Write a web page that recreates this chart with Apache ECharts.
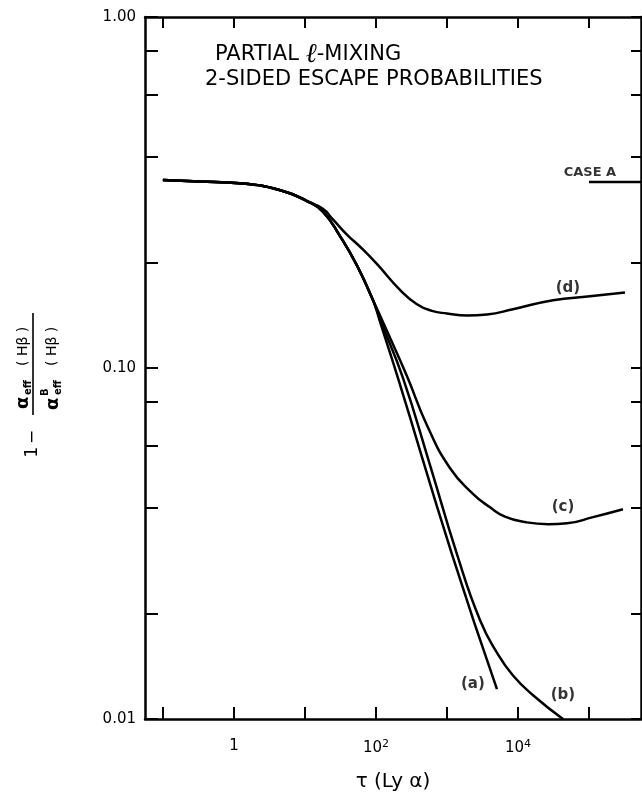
<!DOCTYPE html>
<html>
<head>
<meta charset="utf-8">
<script src="https://cdn.jsdelivr.net/npm/echarts@6/dist/echarts.min.js"></script>
<style>
  html, body { margin: 0; background: #fff; }
  #main { width: 642px; height: 797px; }
</style>
</head>
<body>
<div id="main"></div>
<script>
// axis range (tau, ratio) and tick values
var tauMin = 0.056, tauMax = 5.4e5
var valMin = 0.01, valMax = 1
var xTicks = [0.1, 1, 10, 100, 1000, 1e4, 1e5]
var xLabels = [1, 100, 1e4]
var yTicks = [0.01, 0.02, 0.04, 0.06, 0.08, 0.1, 0.2, 0.4, 0.6, 0.8, 1]
var yLabels = [0.01, 0.1, 1]

// curves
var tauA = [0.1, 0.33, 1.2, 4.5, 10.7, 17.9, 31, 54, 91, 114, 204, 1175, 5060]
var valA = [0.343, 0.340, 0.336, 0.321, 0.299, 0.279, 0.238, 0.196, 0.156, 0.1355, 0.0937, 0.0295, 0.01216]
var tauB = [0.1, 0.33, 1.2, 4.5, 10.7, 17.9, 31, 54, 91, 118, 240, 576, 1383, 2917, 5060, 8510, 16300, 43000]
var valB = [0.343, 0.340, 0.336, 0.321, 0.299, 0.279, 0.238, 0.196, 0.156, 0.1355, 0.0937, 0.0530, 0.0295, 0.01914, 0.01545, 0.0133, 0.01169, 0.0100]
var tauC = [0.1, 0.33, 1.2, 4.5, 10.7, 17.9, 31, 54, 91, 134, 273, 523, 1100, 2323, 4034, 6560, 12550, 26500, 49000, 114000, 301000]
var valC = [0.343, 0.340, 0.336, 0.321, 0.299, 0.279, 0.238, 0.196, 0.156, 0.1312, 0.0949, 0.0687, 0.0519, 0.0438, 0.0401, 0.0377, 0.0364, 0.0359, 0.0361, 0.0376, 0.0396]
var tauD = [0.1, 0.33, 1.2, 4.5, 10.7, 17.9, 24.8, 39, 63.5, 103, 218, 378, 615, 1000, 1914, 3660, 8500, 31100, 103000, 321000]
var valD = [0.343, 0.340, 0.336, 0.321, 0.299, 0.284, 0.265, 0.240, 0.219, 0.198, 0.167, 0.152, 0.1455, 0.143, 0.141, 0.142, 0.147, 0.156, 0.160, 0.164]
var caseTau = [1e5, 5.4e5]
var caseVal = [0.339, 0.339]

// curve labels
var noteText = ['(a)', '(b)', '(c)', '(d)', 'CASE A']
var noteTau = [2320, 43000, 43000, 50600, 1.03e5]
var noteVal = [0.01256, 0.01169, 0.0401, 0.169, 0.361]

var FONT = '"DejaVu Sans", sans-serif'
var lg = Math.log10

function pts(t, v) {
  return t.map(function (x, i) { return [lg(x), lg(v[i])] })
}

function curve(name, t, v) {
  return {
    name: name,
    type: 'line',
    data: pts(t, v),
    showSymbol: false,
    smooth: 0.5,
    clip: true,
    lineStyle: { color: '#000', width: 2.5 },
    z: 3
  }
}

var myChart = echarts.init(document.getElementById('main'))

var axisLineStyle = { color: '#000', width: 2.5 }

var option = {
  animation: false,
  backgroundColor: '#fff',
  grid: { left: 145, right: 1, top: 17, bottom: 70, containLabel: false },
  xAxis: [
    {
      type: 'value',
      min: lg(tauMin),
      max: lg(tauMax),
      splitLine: { show: false },
      axisLine: { onZero: false, lineStyle: axisLineStyle },
      axisTick: { inside: true, length: 12, lineStyle: { color: '#000', width: 2 }, customValues: xTicks.map(lg) },
      axisLabel: {
        customValues: xLabels.map(lg),
        margin: 20,
        color: '#000',
        fontFamily: FONT,
        fontSize: 15,
        formatter: function (v) {
          var e = Math.round(v)
          return e === 0 ? '1' : '10{s|' + e + '}'
        },
        rich: { s: { fontSize: 11, fontFamily: FONT, color: '#000', verticalAlign: 'top', padding: [0, 0, 8, 0] } }
      },
      name: 'τ (Ly α)',
      nameLocation: 'middle',
      nameGap: 53,
      nameTextStyle: { color: '#000', fontFamily: FONT, fontSize: 20 }
    },
    {
      type: 'value',
      position: 'top',
      min: lg(tauMin),
      max: lg(tauMax),
      splitLine: { show: false },
      axisLine: { onZero: false, lineStyle: axisLineStyle },
      axisTick: { inside: true, length: 11, lineStyle: { color: '#000', width: 2 }, customValues: xTicks.map(lg) },
      axisLabel: { show: false }
    }
  ],
  yAxis: [
    {
      type: 'value',
      min: lg(valMin),
      max: lg(valMax),
      splitLine: { show: false },
      axisLine: { onZero: false, lineStyle: axisLineStyle },
      axisTick: { inside: true, length: 13, lineStyle: { color: '#000', width: 2 }, customValues: yTicks.map(lg) },
      axisLabel: {
        customValues: yLabels.map(lg),
        margin: 9,
        color: '#000',
        fontFamily: FONT,
        fontSize: 15,
        formatter: function (v) { return Math.pow(10, v).toFixed(2) }
      }
    },
    {
      type: 'value',
      position: 'right',
      min: lg(valMin),
      max: lg(valMax),
      splitLine: { show: false },
      axisLine: { onZero: false, lineStyle: axisLineStyle },
      axisTick: { inside: true, length: 10, lineStyle: { color: '#000', width: 2 }, customValues: yTicks.map(lg) },
      axisLabel: { show: false }
    }
  ],
  series: [
    curve('a', tauA, valA),
    curve('b', tauB, valB),
    curve('c', tauC, valC),
    curve('d', tauD, valD),
    curve('Case A', caseTau, caseVal),
    {
      type: 'scatter',
      symbolSize: 1,
      itemStyle: { color: 'rgba(0,0,0,0)' },
      data: noteText.map(function (s, i) {
        return {
          value: [lg(noteTau[i]), lg(noteVal[i]), s],
          label: { fontSize: s === 'CASE A' ? 13 : 15, color: '#000' }
        }
      }),
      label: {
        show: true,
        position: 'inside',
        color: '#000',
        fontFamily: FONT,
        fontWeight: 'bold',
        formatter: function (p) { return p.value[2] }
      },
      z: 4
    }
  ],
  graphic: [
    {
      type: 'text',
      x: 215, y: 55,
      style: {
        text: 'PARTIAL {l|ℓ}-MIXING',
        font: '21px ' + FONT,
        fill: '#000',
        verticalAlign: 'middle',
        rich: { l: { fontSize: 27, fontStyle: 'italic', fontFamily: '"DejaVu Serif", serif' } }
      }
    },
    {
      type: 'text',
      x: 205, y: 80,
      style: { text: '2-SIDED ESCAPE PROBABILITIES', font: '21px ' + FONT, fill: '#000', verticalAlign: 'middle' }
    },
    {
      // y axis title, read bottom to top
      type: 'group',
      x: 33, y: 452,
      rotation: Math.PI / 2,
      children: [
        { type: 'text', x: 0, y: 0, style: { text: '1', font: '17px ' + FONT, fill: '#000', align: 'center', verticalAlign: 'middle' } },
        { type: 'text', x: 15, y: 0, style: { text: '−', font: '17px ' + FONT, fill: '#000', align: 'center', verticalAlign: 'middle' } },
        { type: 'line', shape: { x1: 37, y1: 0, x2: 139, y2: 0 }, style: { stroke: '#000', lineWidth: 1.6 } },
        { type: 'text', x: 43, y: -10, style: { text: 'α', font: 'bold 18px ' + FONT, fill: '#000', verticalAlign: 'middle' } },
        { type: 'text', x: 57, y: -5, style: { text: 'eff', font: 'bold 10px ' + FONT, fill: '#000', verticalAlign: 'middle' } },
        { type: 'text', x: 86, y: -10, style: { text: '( Hβ )', font: '14px ' + FONT, fill: '#000', verticalAlign: 'middle' } },
        { type: 'text', x: 42, y: 20, style: { text: 'α', font: 'bold 18px ' + FONT, fill: '#000', verticalAlign: 'middle' } },
        { type: 'text', x: 56, y: 12, style: { text: 'B', font: 'bold 10px ' + FONT, fill: '#000', verticalAlign: 'middle' } },
        { type: 'text', x: 57, y: 25, style: { text: 'eff', font: 'bold 10px ' + FONT, fill: '#000', verticalAlign: 'middle' } },
        { type: 'text', x: 86, y: 19, style: { text: '( Hβ )', font: '14px ' + FONT, fill: '#000', verticalAlign: 'middle' } }
      ]
    }
  ]
}

option && myChart.setOption(option)
</script>
</body>
</html>
